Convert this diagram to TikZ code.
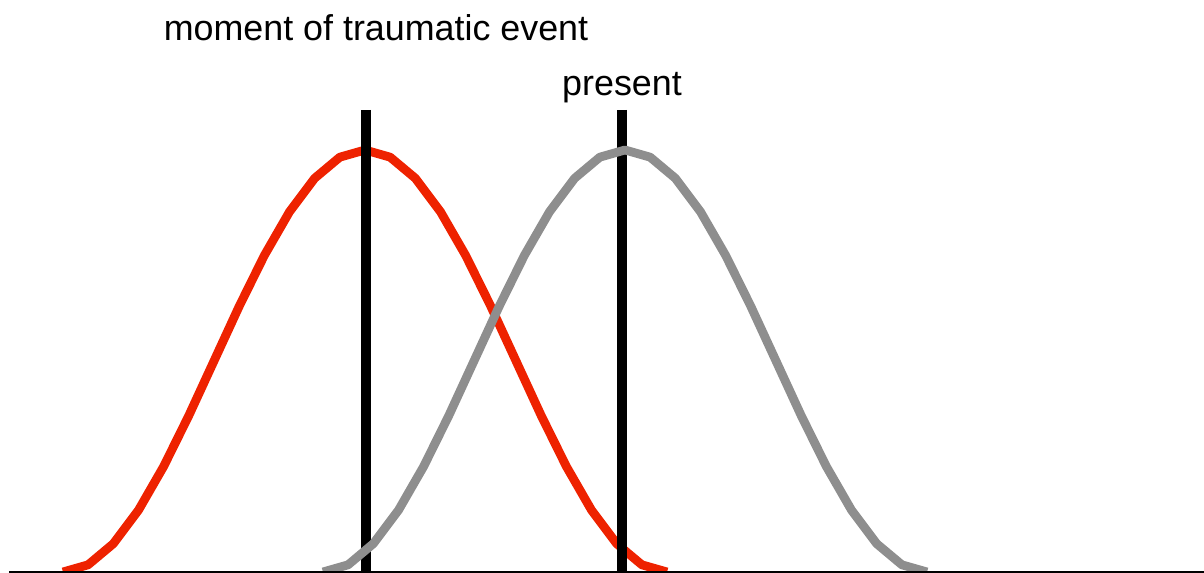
\documentclass[tikz,border=0pt]{standalone}
\usepackage{fontspec}
\setmainfont{Liberation Sans}
\usepackage{tikz}
\definecolor{traumared}{RGB}{238,34,0}
\definecolor{presentgray}{RGB}{142,142,142}

\begin{document}
\begin{tikzpicture}[x=0.02cm,y=0.02cm,bell/.style={line width=5pt,line join=round},marker/.style={line width=5.7pt},lbl/.style={anchor=base,inner sep=0pt,font=\fontsize{20.4}{24}\selectfont}]
\useasboundingbox (0,0) rectangle (1204,573);
\coordinate (axisstart) at (9,1);
\coordinate (axisend) at (1204,1);
\coordinate (eventtop) at (366,463);
\coordinate (eventfoot) at (366,0);
\coordinate (presenttop) at (622,463);
\coordinate (presentfoot) at (622,0);
\node[lbl] (eventlabel) at (376,532) {moment of traumatic event};
\node[lbl] (presentlabel) at (622,477) {present};
% past distribution
\draw[bell,traumared] plot[domain=-180:180,samples=25] ({365+1.678*\x},{1+211*(1+cos(\x))});
\draw[marker] (eventtop) -- (eventfoot);
\draw[marker] (presenttop) -- (presentfoot);
% present distribution
\draw[bell,presentgray] plot[domain=-180:180,samples=25] ({625+1.678*\x},{1+211*(1+cos(\x))});
\draw[line width=1pt] (axisstart) -- (axisend);
\end{tikzpicture}
\end{document}
